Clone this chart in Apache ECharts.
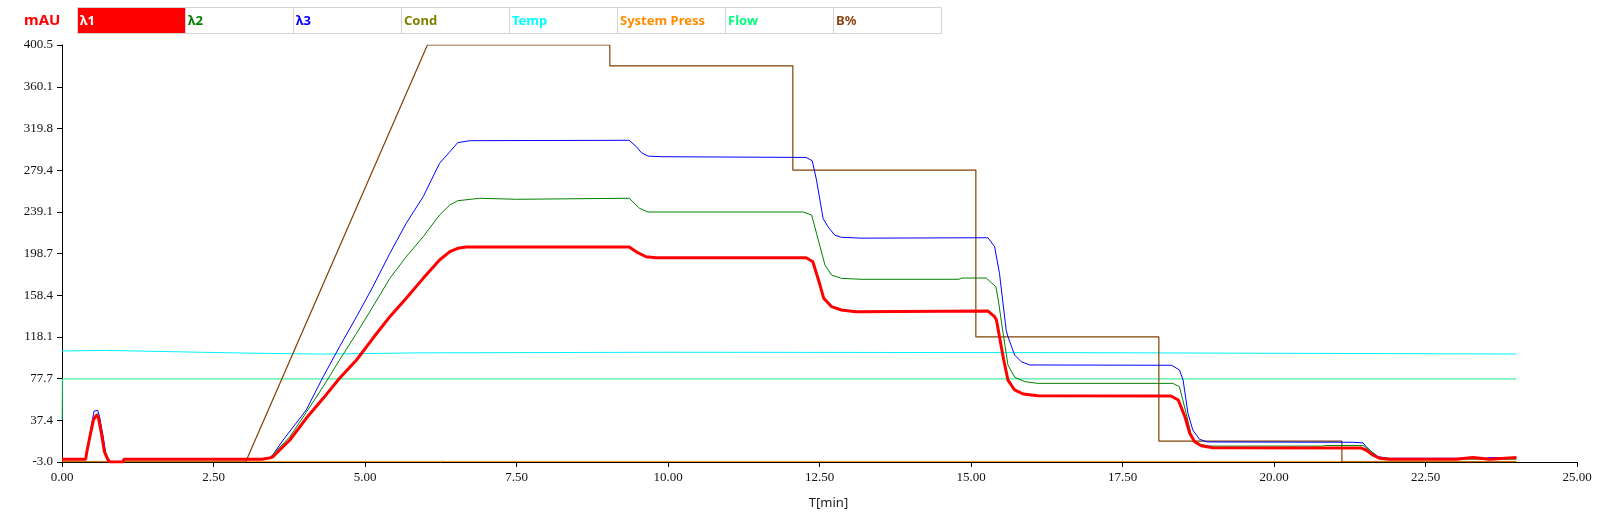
<!DOCTYPE html>
<html>
<head>
<meta charset="utf-8">
<title>Chromatogram</title>
<script src="https://cdn.jsdelivr.net/npm/echarts@6/dist/echarts.min.js"></script>
<style>
  html, body { margin: 0; padding: 0; background: #fff; }
  #chart { width: 1609px; height: 522px; }
</style>
</head>
<body>
<div id="chart"></div>
<script>
// Run time axis (minutes) and absorbance axis ticks (mAU)
const xTicks = [0, 2.5, 5, 7.5, 10, 12.5, 15, 17.5, 20, 22.5, 25];
const yTicks = [-3.0, 37.4, 77.7, 118.1, 158.4, 198.7, 239.1, 279.4, 319.8, 360.1, 400.5];

// Trace legend strip
const legendNames  = ['λ1', 'λ2', 'λ3', 'Cond', 'Temp', 'System Press', 'Flow', 'B%'];
const legendColors = ['#ffffff', '#008000', '#0000ff', '#808000', '#00ffff', '#ff8c00', '#00ff7f', '#8b4513'];

// UV channels, [time min, mAU]
const lambda1 = [
  [0, -0.3], [0.39, -0.3], [0.41, 7], [0.46, 21.5], [0.52, 38], [0.57, 42.5], [0.60, 40],
  [0.65, 24.8], [0.70, 7], [0.75, 0], [0.79, -3], [1.01, -3], [1.02, -0.3], [3.30, -0.3],
  [3.32, 1], [3.43, 1], [3.48, 2.1], [3.76, 18.3], [4.03, 39.3], [4.31, 58.6], [4.58, 78],
  [4.86, 95.7], [5.13, 116.7], [5.41, 137.6], [5.68, 155.4], [5.96, 174.7], [6.23, 192.5],
  [6.40, 200.5], [6.53, 203.8], [6.67, 205], [9.36, 205], [9.50, 199.5], [9.64, 195.6],
  [9.80, 194.7], [12.28, 194.7], [12.39, 190.8], [12.50, 169.9], [12.57, 155.4], [12.70, 147.3],
  [12.86, 144.1], [13.10, 142.4], [15.28, 143], [15.39, 137.6], [15.42, 134.4], [15.47, 118.2],
  [15.54, 95.7], [15.61, 76.3], [15.72, 66.7], [15.86, 62.8], [16.10, 61.2], [18.30, 60.9],
  [18.42, 57], [18.53, 40.8], [18.61, 24.8], [18.69, 16.6], [18.80, 12.8], [18.99, 10.8],
  [21.44, 10.5], [21.52, 8.6], [21.63, 3.8], [21.74, 0.6], [21.90, -0.3], [23.00, -0.3],
  [23.01, 1.3], [23.28, 1.3], [23.29, -0.3], [23.56, -0.3], [23.57, 1.3], [24.00, 1.3]
];
const lambda2 = [
  [0, 0], [0.39, 0], [0.42, 8], [0.47, 25], [0.53, 40], [0.58, 44], [0.62, 38], [0.67, 22],
  [0.72, 5], [0.77, 0], [0.79, -3], [1.01, -3], [1.02, 0], [3.30, 0], [3.32, 1], [3.43, 1],
  [3.76, 21.5], [4.03, 45], [4.31, 69.9], [4.58, 95.7], [4.86, 121.5], [5.13, 147.3],
  [5.41, 174.7], [5.68, 195.6], [5.96, 215], [6.23, 236], [6.40, 245.7], [6.53, 249.8],
  [6.89, 252.2], [7.50, 251.2], [9.36, 252.2], [9.53, 242.5], [9.67, 238.9], [12.23, 238.9],
  [12.37, 236], [12.48, 211.8], [12.59, 187.6], [12.70, 177.9], [12.86, 174.7], [13.20, 173.8],
  [14.80, 173.8], [14.85, 175], [15.25, 175], [15.41, 166.6], [15.45, 153.8], [15.53, 121.5],
  [15.61, 90.9], [15.72, 79], [15.89, 74.7], [16.10, 73.1], [18.33, 73.1], [18.44, 69.9],
  [18.55, 44.1], [18.64, 21.5], [18.77, 14.1], [18.94, 12.4], [20.80, 12.4], [20.85, 13],
  [21.47, 13], [21.58, 8.6], [21.69, 2.8], [21.80, 0], [24.00, -0.3]
];
const lambda3 = [
  [0, 0.2], [0.39, 0.2], [0.43, 11.8], [0.49, 34.4], [0.53, 46.3], [0.59, 47], [0.62, 40.8],
  [0.68, 21.5], [0.73, 2.1], [0.77, 0], [0.79, -3], [1.01, -3], [1.02, 0.2], [3.30, 0.2],
  [3.32, 1.5], [3.45, 1.5], [3.65, 18.3], [4.03, 47.3], [4.31, 79.5], [4.58, 108.6],
  [4.86, 137.6], [5.13, 166.6], [5.41, 198.9], [5.68, 228], [5.96, 253.7], [6.23, 286],
  [6.40, 297.2], [6.53, 306], [6.73, 307.9], [9.36, 308.3], [9.48, 302], [9.56, 296.3],
  [9.67, 293], [9.90, 292.4], [12.28, 291.7], [12.38, 288.5], [12.45, 270], [12.56, 232.5],
  [12.64, 224.7], [12.75, 216.6], [12.86, 214.4], [13.20, 213.6], [15.28, 214], [15.39, 205.3],
  [15.47, 179.6], [15.58, 124.7], [15.61, 118.2], [15.72, 100.5], [15.83, 94], [15.97, 90.9],
  [18.31, 90.6], [18.44, 86], [18.50, 76.3], [18.58, 44.1], [18.66, 28], [18.77, 19],
  [18.90, 16.4], [21.30, 16.1], [21.47, 15.5], [21.52, 11.8], [21.63, 6], [21.72, 2.1],
  [21.90, 0.6], [23.50, 0.6], [23.55, 1.3], [24.00, 1.3]
];

// Gradient program, [time min, %B]
const gradientB = [
  [0, 0], [3.03, 0], [6.03, 100], [9.04, 100], [9.04, 95], [12.06, 95], [12.06, 70],
  [15.08, 70], [15.08, 30], [18.10, 30], [18.10, 5], [21.12, 5], [21.12, 0], [24.00, 0]
];

// Auxiliary traces on the mAU scale
const tempTrace  = [[0, 104.4], [0.7, 105], [3.0, 102.4], [4.3, 101.4], [5.9, 102.6], [10, 103.2], [16.7, 102.8], [24.0, 101.5]];
const flowTrace  = [[0, 37.6], [0.005, 77.4], [24.0, 77.4]];
const pressTrace = [[0, -2.4], [24.0, -2.4]];

const chart = echarts.init(document.getElementById('chart'), null, { renderer: 'canvas' });

const serifFont = '"Liberation Serif", "Times New Roman", serif';
const sansFont = '"Noto Sans", "Open Sans", sans-serif';

// Table-style legend strip across the top
const cellX = 77, cellY = 7, cellW = 108, cellH = 26;
const legendGraphics = [];
legendNames.forEach((name, i) => {
  legendGraphics.push({
    type: 'rect',
    shape: { x: cellX + i * cellW + 0.5, y: cellY + 0.5, width: cellW, height: cellH },
    style: { fill: i === 0 ? '#ff0000' : '#ffffff', stroke: '#d3d3d3', lineWidth: 1 },
    z: 10
  });
  legendGraphics.push({
    type: 'text',
    x: cellX + i * cellW + 3,
    y: cellY + cellH / 2 + 1,
    style: {
      text: name,
      fill: legendColors[i],
      font: 'bold 13px ' + sansFont,
      verticalAlign: 'middle',
      align: 'left'
    },
    z: 11
  });
});
legendGraphics.push({
  type: 'text',
  x: 24,
  y: 21,
  style: {
    text: 'mAU',
    fill: '#ff0000',
    font: 'bold 15px ' + sansFont,
    verticalAlign: 'middle',
    align: 'left'
  },
  z: 11
});

function lineSeries(name, data, color, width, yIndex, z) {
  return {
    name: name,
    type: 'line',
    data: data,
    yAxisIndex: yIndex,
    showSymbol: false,
    symbol: 'none',
    clip: true,
    z: z,
    lineStyle: { color: color, width: width },
    emphasis: { disabled: true }
  };
}

chart.setOption({
  animation: false,
  backgroundColor: '#ffffff',
  grid: { left: 62, right: 32, top: 45, bottom: 60, containLabel: false },
  graphic: legendGraphics,
  xAxis: {
    type: 'value',
    min: xTicks[0],
    max: xTicks[xTicks.length - 1],
    interval: 2.5,
    name: 'T[min]',
    nameLocation: 'middle',
    nameGap: 35,
    nameTextStyle: { color: '#222', fontFamily: sansFont, fontSize: 13, padding: [0, 0, 0, 18] },
    axisLine: { show: true, onZero: false, lineStyle: { color: '#000', width: 1 } },
    axisTick: { show: true, length: 5, lineStyle: { color: '#000' } },
    axisLabel: {
      color: '#111',
      fontFamily: serifFont,
      fontSize: 13,
      margin: 9,
      formatter: v => v.toFixed(2)
    },
    splitLine: { show: false }
  },
  yAxis: [
    {
      type: 'value',
      min: yTicks[0],
      max: yTicks[yTicks.length - 1],
      axisLine: { show: true, onZero: false, lineStyle: { color: '#000', width: 1 } },
      axisTick: { show: true, length: 5, customValues: yTicks, lineStyle: { color: '#000' } },
      axisLabel: {
        color: '#111',
        fontFamily: serifFont,
        fontSize: 13,
        margin: 9,
        customValues: yTicks,
        formatter: v => v.toFixed(1)
      },
      splitLine: { show: false }
    },
    {
      type: 'value',
      min: 0,
      max: 100,
      show: false,
      splitLine: { show: false }
    }
  ],
  series: [
    lineSeries('Temp', tempTrace, '#00f0ff', 1, 0, 1),
    lineSeries('Flow', flowTrace, '#1ee888', 1, 0, 2),
    lineSeries('System Press', pressTrace, '#ff8c00', 1, 0, 3),
    lineSeries('B%', gradientB, '#804000', 1.2, 1, 4),
    lineSeries('λ3', lambda3, '#0000ff', 1, 0, 5),
    lineSeries('λ2', lambda2, '#008000', 1, 0, 6),
    lineSeries('λ1', lambda1, '#ff0000', 3, 0, 7)
  ]
});
</script>
</body>
</html>
